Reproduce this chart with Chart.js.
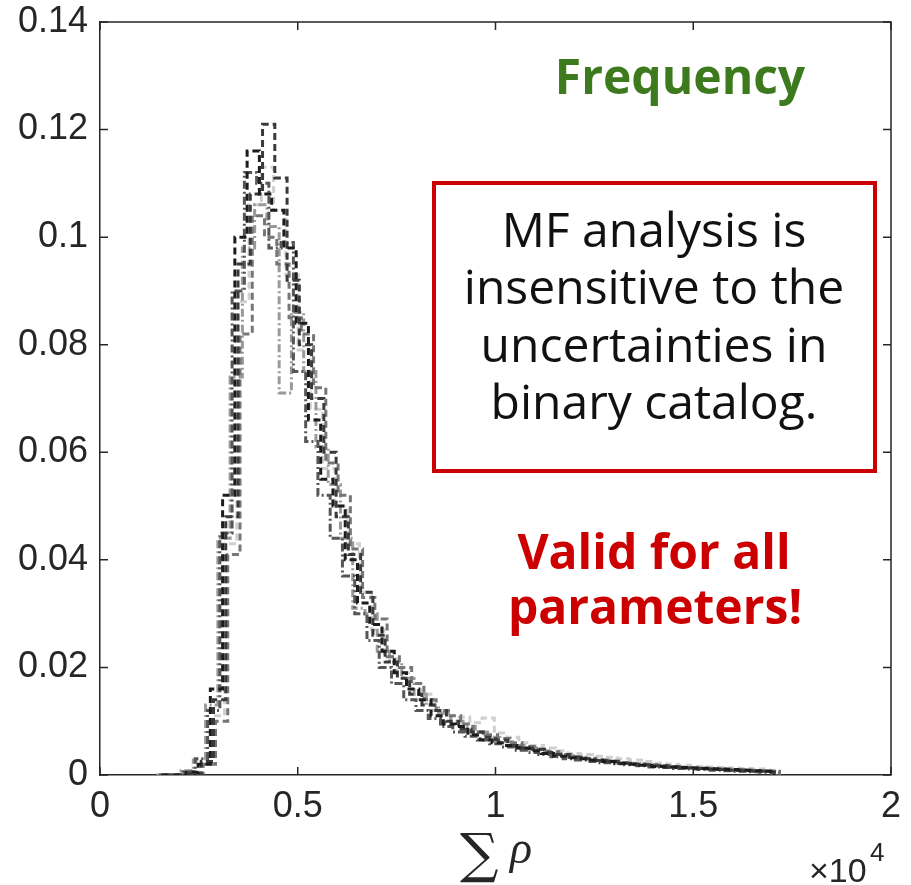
<!DOCTYPE html>
<html>
<head>
<meta charset="utf-8">
<script src="https://cdn.jsdelivr.net/npm/chart.js@4/dist/chart.umd.min.js"></script>
<style>
html,body{margin:0;padding:0;background:#fff;}
canvas{display:block;}
</style>
</head>
<body>
<canvas id="c" width="911" height="885"></canvas>
<script>
// ---- data (x in units of 10^4) ----
const binStart = 0.155;
const binWidth = 0.031;
const xTickLabels = ["0", "0.5", "1", "1.5", "2"];
const yTickLabels = ["0", "0.02", "0.04", "0.06", "0.08", "0.1", "0.12", "0.14"];
const seriesShift = [0, 0.008, -0.007, 0.013, -0.012, 0.005];
const seriesColors = ["#1c1c1c", "#3a3a3a", "#565656", "#767676", "#9a9a9a", "#cfcfcf"];

const s1 = [0,0,0.0005,0.002,0.016,0.052,0.100,0.116,0.108,0.105,0.098,0.084,0.066,0.055,0.050,0.040,0.032,0.028,0.023,0.019,0.016,0.014,0.011,0.0095,0.009,0.0075,0.0065,0.006,0.0055,0.005,0.0045,0.004,0.0035,0.0032,0.003,0.0028,0.0025,0.0022,0.002,0.0018,0.0016,0.0015,0.0014,0.0013,0.0012,0.0011,0.001,0.0009,0.0008,0.0007];
const s2 = [0,0,0.0003,0.0025,0.014,0.048,0.095,0.108,0.121,0.111,0.092,0.080,0.070,0.060,0.048,0.041,0.034,0.026,0.021,0.018,0.015,0.013,0.012,0.010,0.0085,0.008,0.007,0.0065,0.0055,0.005,0.0048,0.0042,0.0038,0.0033,0.003,0.0027,0.0025,0.0022,0.002,0.0019,0.0017,0.0015,0.0013,0.0012,0.0011,0.001,0.0009,0.0008,0.0007,0.0006];
const s3 = [0,0,0.0006,0.003,0.012,0.045,0.090,0.112,0.110,0.098,0.099,0.075,0.062,0.052,0.044,0.037,0.030,0.025,0.020,0.017,0.014,0.012,0.0105,0.009,0.008,0.0072,0.0065,0.0058,0.0052,0.0046,0.0042,0.0038,0.0034,0.003,0.0028,0.0025,0.0023,0.0021,0.0019,0.0017,0.0015,0.0014,0.0012,0.0011,0.001,0.0009,0.0008,0.0007,0.0006,0.0005];
const s4 = [0,0,0.0004,0.002,0.010,0.041,0.082,0.104,0.100,0.095,0.085,0.082,0.072,0.058,0.052,0.042,0.033,0.029,0.022,0.020,0.017,0.014,0.012,0.011,0.0095,0.008,0.0075,0.0068,0.006,0.0053,0.0048,0.0043,0.0038,0.0034,0.0031,0.0028,0.0026,0.0023,0.0021,0.0019,0.0017,0.0016,0.0014,0.0013,0.0012,0.0011,0.001,0.0009,0.0008,0.0007];
const s5 = [0,0,0.0008,0.0028,0.013,0.044,0.074,0.098,0.106,0.102,0.071,0.086,0.075,0.061,0.054,0.044,0.031,0.030,0.023,0.021,0.018,0.015,0.013,0.0115,0.010,0.009,0.008,0.007,0.0062,0.0055,0.005,0.0045,0.004,0.0036,0.0033,0.003,0.0027,0.0025,0.0022,0.002,0.0018,0.0017,0.0015,0.0014,0.0013,0.0012,0.0011,0.001,0.0009,0.0008];
const s6 = [0,0,0.0005,0.002,0.011,0.043,0.088,0.106,0.113,0.105,0.093,0.079,0.068,0.057,0.050,0.043,0.034,0.027,0.022,0.019,0.017,0.015,0.012,0.011,0.0108,0.0097,0.0106,0.0078,0.007,0.006,0.0055,0.005,0.0045,0.004,0.0038,0.0035,0.0033,0.003,0.0028,0.0025,0.0022,0.002,0.0018,0.0016,0.0015,0.0014,0.0013,0.0012,0.0011,0.0009];
const allSeries = [s1, s2, s3, s4, s5, s6];
const dashPatterns = [[7,4],[7,4],[8,3,2,3],[7,4],[8,3,2,3],[7,4]];

function toSteps(vals, shift) {
  const pts = vals.map((v, i) => ({ x: binStart + shift + i * binWidth, y: v }));
  const end = binStart + shift + vals.length * binWidth;
  pts.push({ x: end, y: vals[vals.length - 1] });
  pts.push({ x: end, y: 0 });
  return pts;
}

const datasets = allSeries.map((vals, k) => ({
  data: toSteps(vals, seriesShift[k]),
  borderColor: seriesColors[k],
  borderWidth: 3,
  borderDash: dashPatterns[k],
  pointRadius: 0,
  stepped: 'before',
  fill: false
}));

const AXIS = '#262626';

const decor = {
  id: 'decor',
  afterDraw(chart) {
    const ctx = chart.ctx;
    const a = chart.chartArea;
    const xs = chart.scales.x, ys = chart.scales.y;
    ctx.save();
    ctx.strokeStyle = AXIS;
    ctx.lineWidth = 1.5;
    ctx.beginPath();
    ctx.moveTo(a.left, a.top); ctx.lineTo(a.right, a.top); ctx.lineTo(a.right, a.bottom);
    ctx.stroke();
    const tl = 8;
    ctx.beginPath();
    xs.ticks.forEach(t => {
      const px = xs.getPixelForValue(t.value);
      ctx.moveTo(px, a.bottom); ctx.lineTo(px, a.bottom - tl);
      ctx.moveTo(px, a.top); ctx.lineTo(px, a.top + tl);
    });
    ys.ticks.forEach(t => {
      const py = ys.getPixelForValue(t.value);
      ctx.moveTo(a.left, py); ctx.lineTo(a.left + tl, py);
      ctx.moveTo(a.right, py); ctx.lineTo(a.right - tl, py);
    });
    ctx.stroke();

    // axis label  ∑ρ
    ctx.fillStyle = '#262626';
    ctx.textBaseline = 'alphabetic';
    ctx.textAlign = 'left';
    ctx.font = '54px "DejaVu Serif"';
    ctx.fillText('\u2211', 460, 872);
    ctx.font = 'italic 46px "Liberation Serif"';
    ctx.fillText('\u03C1', 510, 863);
    // ×10^4
    ctx.font = '34px "Liberation Sans"';
    ctx.fillText('\u00D710', 809, 882);
    ctx.font = '26px "Liberation Sans"';
    ctx.fillText('4', 870, 861);

    // annotations
    ctx.textAlign = 'center';
    ctx.textBaseline = 'middle';
    ctx.fillStyle = '#3d7a1e';
    ctx.font = 'bold 48px "Open Sans"';
    ctx.fillText('Frequency', 680, 80);

    ctx.fillStyle = '#ffffff';
    ctx.fillRect(434, 183, 441, 288);
    ctx.strokeStyle = '#cc0000';
    ctx.lineWidth = 4;
    ctx.strokeRect(434, 183, 441, 288);

    ctx.fillStyle = '#111111';
    ctx.font = '48px "Open Sans"';
    const lines = ['MF analysis is', 'insensitive to the', 'uncertainties in', 'binary catalog.'];
    lines.forEach((l, i) => ctx.fillText(l, 654, 233 + i * 57.5));

    ctx.fillStyle = '#cc0000';
    ctx.font = 'bold 48px "Open Sans"';
    ctx.fillText('Valid for all', 654, 555);
    ctx.fillText('parameters!', 655, 610);
    ctx.restore();
  }
};

new Chart(document.getElementById('c'), {
  type: 'line',
  data: { datasets },
  plugins: [decor],
  options: {
    responsive: false,
    devicePixelRatio: 1,
    animation: false,
    events: [],
    layout: { padding: { top: 22, right: 20, left: 0, bottom: 0 } },
    plugins: { legend: { display: false }, tooltip: { enabled: false } },
    scales: {
      x: {
        type: 'linear', min: 0, max: 2,
        afterFit: s => { s.height = 110; s.paddingLeft = 0; s.paddingRight = 0; },
        afterBuildTicks: s => { s.ticks = xTickLabels.map(v => ({ value: parseFloat(v) })); },
        ticks: {
          callback: (v, i) => xTickLabels[i],
          font: { family: 'Liberation Sans', size: 36 }, color: '#262626',
          padding: 10, maxRotation: 0, autoSkip: false
        },
        grid: { display: true, drawOnChartArea: false, drawTicks: false },
        border: { display: true, color: AXIS, width: 1.5 }
      },
      y: {
        type: 'linear', min: 0, max: 0.14,
        afterFit: s => { s.width = 100; s.paddingTop = 0; s.paddingBottom = 0; },
        afterBuildTicks: s => { s.ticks = yTickLabels.map(v => ({ value: parseFloat(v) })); },
        ticks: {
          callback: (v, i) => yTickLabels[i],
          font: { family: 'Liberation Sans', size: 36 }, color: '#262626',
          padding: 12, autoSkip: false
        },
        grid: { display: true, drawOnChartArea: false, drawTicks: false },
        border: { display: true, color: AXIS, width: 1.5 }
      }
    }
  }
});
</script>
</body>
</html>
